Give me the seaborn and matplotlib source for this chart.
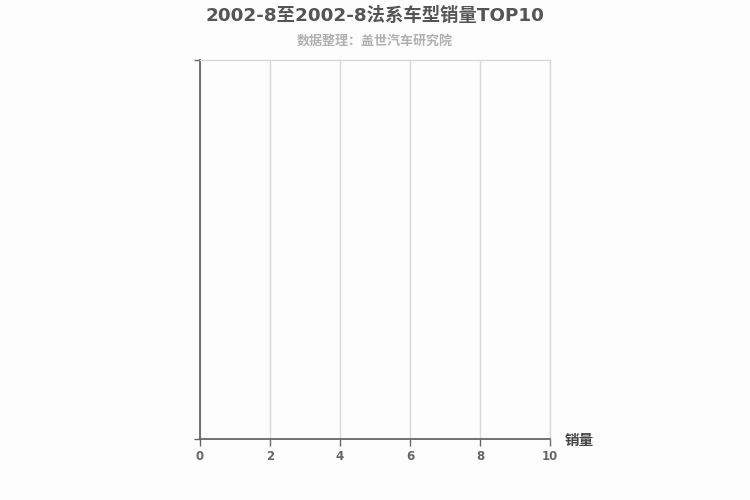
import matplotlib
matplotlib.use("Agg")
import matplotlib.pyplot as plt
import seaborn as sns
import pandas as pd

# Data (the reference chart is empty: no models listed)
models = []
sales = []
x_ticks = [0, 2, 4, 6, 8, 10]

title = "2002-8至2002-8法系车型销量TOP10"
subtitle = "数据整理：盖世汽车研究院"
x_label = "销量"

sns.set_theme(style="white")
plt.rcParams['font.family'] = ['DejaVu Sans', 'Noto Sans CJK SC']

fig = plt.figure(figsize=(7.5, 5), dpi=100, facecolor="#fdfdfd")
ax = fig.add_axes([200/750, 1-439/500, 350/750, 379/500])
ax.set_facecolor("#fdfdfd")

df = pd.DataFrame({"model": models, "sales": sales})
if len(df):
    sns.barplot(data=df, y="model", x="sales", ax=ax, orient="h")

ax.set_xlim(x_ticks[0], x_ticks[-1])
ax.set_ylim(0, 1)
ax.set_xticks(x_ticks)
ax.set_xticklabels([str(t) for t in x_ticks], fontsize=8.5, fontweight="bold", color="#666666")
ax.set_yticks([0, 1])
ax.set_yticklabels([])
ax.grid(axis="x", color="#d9d9d9", linewidth=1)
ax.set_axisbelow(True)
for s in ["top", "right"]:
    ax.spines[s].set_color("#d9d9d9")
    ax.spines[s].set_linewidth(1)
for s in ["left", "bottom"]:
    ax.spines[s].set_color("#666666")
    ax.spines[s].set_linewidth(1.3)
ax.tick_params(axis="x", length=5, width=1, color="#666666", pad=3, bottom=True)
ax.tick_params(axis="y", length=4, width=1, color="#666666", left=True)
ax.set_xlabel("")
ax.set_ylabel("")

fig.text(565/750, 1-440/500, x_label, fontsize=10.5, fontweight="bold", color="#444444", va="center", ha="left")
fig.text(375/750, 1-16/500, title, fontsize=13.2, fontweight="bold", color="#555555", ha="center", va="center")
fig.text(375/750, 1-41/500, subtitle, fontsize=9.4, fontweight="bold", color="#b0b0b0", ha="center", va="center")

fig.savefig("out.png", dpi=100, facecolor=fig.get_facecolor())
